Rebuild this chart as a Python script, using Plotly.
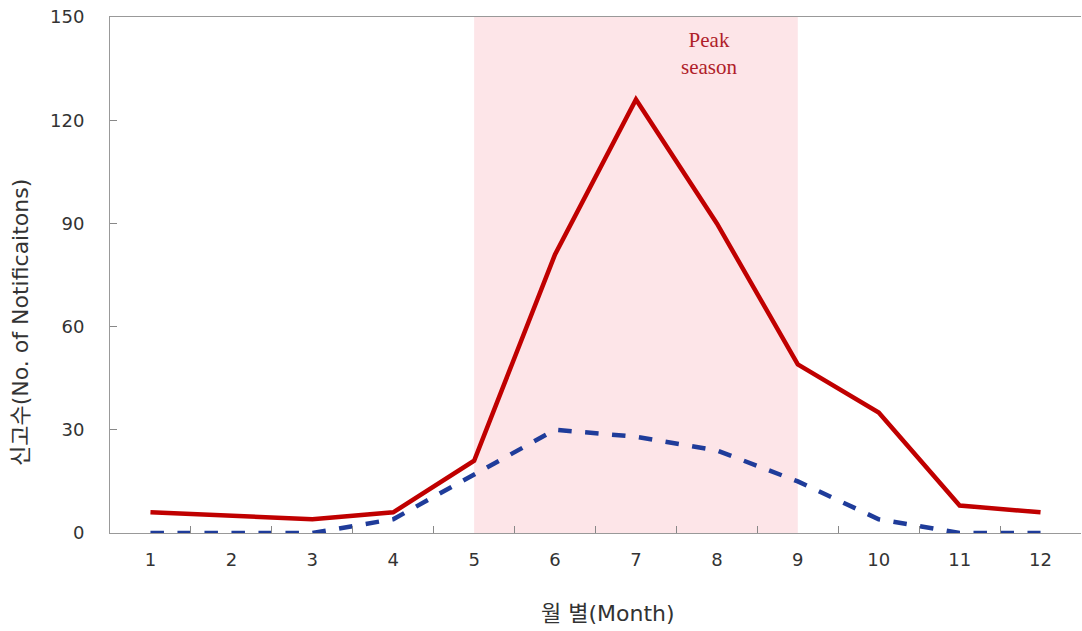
import plotly.graph_objects as go

months = ["1", "2", "3", "4", "5", "6", "7", "8", "9", "10", "11", "12"]
total = [6, 5, 4, 6, 21, 81, 126, 90, 49, 35, 8, 6]
subset = [0, 0, 0, 4, 17, 30, 28, 24, 15, 4, 0, 0]
peak_start, peak_end = "5", "9"
yticks = [0, 30, 60, 90, 120, 150]

FONT = "DejaVu Sans, Noto Sans CJK KR"

fig = go.Figure()
fig.add_shape(type="rect", xref="x", yref="paper",
              x0=months.index(peak_start), x1=months.index(peak_end), y0=0, y1=1,
              fillcolor="#FDE5E8", line_width=0, layer="below")
fig.add_trace(go.Scatter(x=months, y=total, mode="lines",
                         line=dict(color="#C00000", width=4.5)))
fig.add_trace(go.Scatter(x=months, y=subset, mode="lines",
                         line=dict(color="#1F3C9A", width=4.5, dash="dash")))
fig.add_annotation(x=6.9, y=147.5, xref="x", yref="y", text="Peak<br>season",
                   showarrow=False, font=dict(family="Liberation Serif", size=21, color="#B01E2A"),
                   yanchor="top")
# axis titles
fig.add_annotation(x=0, y=0.407, xref="paper", yref="paper", xshift=-89,
                   xanchor="center", yanchor="middle",
                   text="신고수(No. of Notificaitons)", textangle=-90, showarrow=False,
                   font=dict(family=FONT, size=22, color="#333333"))
fig.add_annotation(x=0.513, y=0, xref="paper", yref="paper", yshift=-80,
                   xanchor="center", yanchor="middle",
                   text="월 별(Month)", showarrow=False,
                   font=dict(family=FONT, size=22, color="#333333"))

fig.update_layout(
    width=1082, height=631,
    margin=dict(l=110, r=1, t=17, b=98),
    plot_bgcolor="white", paper_bgcolor="white",
    showlegend=False,
    font=dict(family=FONT, size=18, color="#333333"),
    xaxis=dict(type="category", tickson="boundaries", ticks="inside", ticklen=7,
               tickcolor="#888888", showline=True, linecolor="#999999", linewidth=1,
               mirror=True, showgrid=False, range=[-0.5, 11.5], automargin=False,
               ticklabelstandoff=10),
    yaxis=dict(range=[0, 150], tickvals=yticks, ticks="inside", ticklen=7,
               tickcolor="#888888", showline=True, linecolor="#999999", linewidth=1,
               showgrid=False, zeroline=False, ticklabelstandoff=21, automargin=False,
               ticklabeloverflow="allow"),
)
fig.write_html("out.html", config={"displayModeBar": False},
               post_script="document.body.style.margin='0';document.body.style.overflow='hidden';")
